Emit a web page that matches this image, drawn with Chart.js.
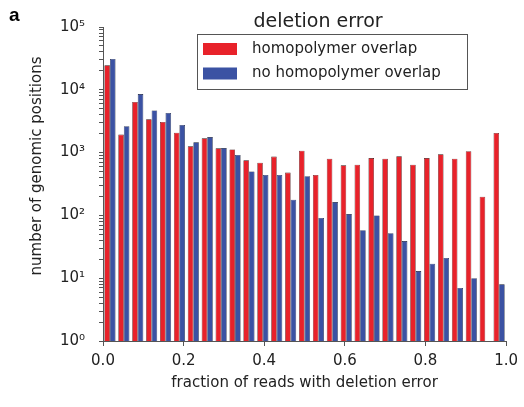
<!DOCTYPE html>
<html>
<head>
<meta charset="utf-8">
<script src="https://cdn.jsdelivr.net/npm/chart.js@4.4.1/dist/chart.umd.min.js"></script>
<style>
  html, body { margin: 0; padding: 0; background: #fff; }
  #wrap { width: 524px; height: 407px; }
</style>
</head>
<body>
<div id="wrap"><canvas id="delHist"></canvas></div>
<script>
// 29 equal-width bins over [0, 1], labelled by their left edge
const binStarts = ['0.000', '0.034', '0.069', '0.103', '0.138', '0.172', '0.207', '0.241', '0.276', '0.310',
                   '0.345', '0.379', '0.414', '0.448', '0.483', '0.517', '0.552', '0.586', '0.621', '0.655',
                   '0.690', '0.724', '0.759', '0.793', '0.828', '0.862', '0.897', '0.931', '0.966'];
const homoOverlap = [24500, 1940, 6400, 3390, 3070, 2080, 1260, 1690, 1170, 1120,
                     754, 690, 863, 480, 1070, 440, 800, 627, 643, 818,
                     800, 871, 643, 818, 940, 800, 1050, 199, 2050];
const noHomoOverlap = [31000, 2630, 8560, 4680, 4270, 2760, 1460, 1770, 1180, 915,
                       500, 440, 440, 178, 420, 91, 163, 105, 58, 100,
                       52, 39, 13, 17, 21, 7, 10, null, 8];
const xTicks = [0, 0.2, 0.4, 0.6, 0.8, 1.0];
const yDecades = [1, 10, 100, 1000, 10000, 100000];
const supDigits = ['⁰', '¹', '²', '³', '⁴', '⁵'];

const RED = '#e8222a';
const BLUE = '#3b52a3';
const INK = '#222';
const AXIS = '#555';
const FONT = '"DejaVu Sans", sans-serif';

// minor ticks at 1..9 x 10^n for the log axis
function logTicks() {
  const out = [];
  for (let d = 0; d < yDecades.length - 1; d++) {
    for (let m = 1; m < 10; m++) out.push({ value: m * yDecades[d] });
  }
  out.push({ value: yDecades[yDecades.length - 1] });
  return out;
}

const overlay = {
  id: 'overlay',
  afterDraw(chart) {
    const ctx = chart.ctx;
    ctx.save();
    // panel letter
    ctx.fillStyle = '#000';
    ctx.font = 'bold 19px "Liberation Sans", Arial, sans-serif';
    ctx.textBaseline = 'alphabetic';
    ctx.textAlign = 'left';
    ctx.fillText('a', 9, 21);

    // y axis title, sits a little above the axis middle
    ctx.fillStyle = INK;
    ctx.font = '15px ' + FONT;
    ctx.textAlign = 'center';
    ctx.textBaseline = 'middle';
    ctx.save();
    ctx.translate(37, 166);
    ctx.rotate(-Math.PI / 2);
    ctx.fillText('number of genomic positions', 0, 0);
    ctx.restore();

    // legend title above the box
    ctx.font = '19px ' + FONT;
    ctx.fillText('deletion error', 318, 22);

    // legend box
    const bx = 197, by = 34, bw = 270, bh = 55;
    ctx.fillStyle = '#fff';
    ctx.fillRect(bx, by, bw, bh);
    ctx.strokeStyle = '#555';
    ctx.lineWidth = 1;
    ctx.strokeRect(bx + 0.5, by + 0.5, bw, bh);

    ctx.font = '15px ' + FONT;
    ctx.textAlign = 'left';
    chart.data.datasets.forEach((ds, i) => {
      const cy = 49 + i * 24.5;
      ctx.fillStyle = ds.backgroundColor;
      ctx.fillRect(203, cy - 6, 34, 12);
      ctx.fillStyle = INK;
      ctx.fillText(ds.label, 252, cy);
    });
    ctx.restore();
  }
};

new Chart(document.getElementById('delHist'), {
  type: 'bar',
  data: {
    labels: binStarts,
    datasets: [
      { label: 'homopolymer overlap', data: homoOverlap, backgroundColor: RED,
        borderColor: '#3a1010', borderWidth: 0.6 },
      { label: 'no homopolymer overlap', data: noHomoOverlap, backgroundColor: BLUE,
        borderColor: '#101830', borderWidth: 0.6 }
    ]
  },
  options: {
    responsive: true,
    maintainAspectRatio: false,
    animation: false,
    layout: { padding: { top: 27, right: 16, left: 0, bottom: 0 } },
    datasets: { bar: { categoryPercentage: 0.8, barPercentage: 1.0 } },
    plugins: { legend: { display: false }, tooltip: { enabled: false } },
    scales: {
      x: { type: 'category', display: false, offset: true },
      xv: {
        type: 'linear', position: 'bottom', min: 0, max: 1, offset: false,
        afterBuildTicks: s => { s.ticks = xTicks.map(v => ({ value: v })); },
        afterFit: s => { s.height = 66; },
        ticks: { color: INK, font: { family: FONT, size: 15 }, padding: 6,
                 callback: v => v.toFixed(1) },
        grid: { drawOnChartArea: false, offset: false, tickLength: 5, color: AXIS },
        border: { color: AXIS },
        title: { display: true, text: 'fraction of reads with deletion error',
                 color: INK, font: { family: FONT, size: 15 }, padding: { top: 4, bottom: 15 } }
      },
      y: {
        type: 'logarithmic', min: 1, max: 100000,
        afterBuildTicks: s => { s.ticks = logTicks(); },
        afterFit: s => { s.width = 103; },
        ticks: { autoSkip: false, color: INK, font: { family: FONT, size: 15 }, padding: 14,
                 callback: v => {
                   const k = yDecades.indexOf(v);
                   return k >= 0 ? '10' + supDigits[k] : '';
                 } },
        grid: { drawOnChartArea: false, tickLength: 4, color: AXIS },
        border: { color: AXIS }
      }
    }
  },
  plugins: [overlay]
});
</script>
</body>
</html>
